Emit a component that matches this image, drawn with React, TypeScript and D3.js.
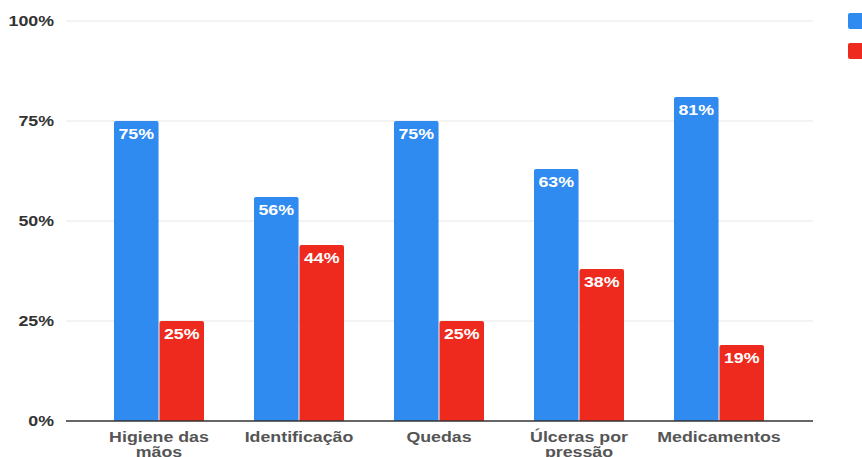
import React from "react";
import * as d3 from "d3";

const categories = [["Higiene das", "mãos"], ["Identificação"], ["Quedas"], ["Úlceras por", "pressão"], ["Medicamentos"]];
const seriesA = [75, 56, 75, 63, 81];
const seriesB = [25, 44, 25, 38, 19];
const yTicks = [0, 25, 50, 75, 100];
const colors = ["#2F8BF0", "#EE2A1F"];

const SX = 1.27;

function T({ x, y, anchor, size, fill, children }: any) {
  return (
    <text transform={`translate(${x},${y}) scale(${SX},1)`} textAnchor={anchor} fontSize={size} fontWeight="bold" fill={fill}>
      {children}
    </text>
  );
}

export default function App() {
  const W = 862, H = 457;
  const y = d3.scaleLinear().domain([0, 100]).range([421, 21]);
  const keys = categories.map((c) => c.join(" "));
  const x = d3.scaleBand().domain(keys).range([89, 789]).padding(0);
  const inner = d3.scaleBand().domain(["a", "b"]).range([0, 90]).paddingInner(0.02);
  const series = [seriesA, seriesB];
  const font = "'Liberation Sans', Arial, Helvetica, sans-serif";
  const bar = (x0: number, w: number, y0: number, y1: number, r: number) =>
    `M${x0},${y1}V${y0 + r}Q${x0},${y0} ${x0 + r},${y0}H${x0 + w - r}Q${x0 + w},${y0} ${x0 + w},${y0 + r}V${y1}Z`;
  return (
    <svg width={W} height={H} style={{ position: "absolute", left: 0, top: 0, background: "#fff" }} fontFamily={font}>
      {yTicks.map((t) => (
        <g key={t}>
          {t > 0 && <line x1={66} x2={813} y1={y(t)} y2={y(t)} stroke="#E6E6E6" strokeWidth={1} />}
          <T x={54} y={y(t) + 5} anchor="end" size={14} fill="#333">{t}%</T>
        </g>
      ))}
      {keys.map((k, i) => {
        const cx = (x(k) as number) + x.bandwidth() / 2;
        return (
          <g key={k}>
            {series.map((s, j) => {
              const bx = cx - 45 + (inner(j === 0 ? "a" : "b") as number);
              const bw = inner.bandwidth();
              return (
                <g key={j}>
                  <path d={bar(bx, bw, y(s[i]), y(0), 2)} fill={colors[j]} />
                  <T x={bx + bw / 2} y={y(s[i]) + 18} anchor="middle" size={14} fill="#fff">{s[i]}%</T>
                </g>
              );
            })}
            {categories[i].map((line, li) => (
              <T key={li} x={cx} y={442 + li * 15} anchor="middle" size={14} fill="#555">{line}</T>
            ))}
          </g>
        );
      })}
      <line x1={66} x2={813} y1={y(0)} y2={y(0)} stroke="#333" strokeWidth={1.5} />
      {colors.map((c, j) => (
        <rect key={c} x={848} y={13 + j * 30} width={16} height={16} rx={2} fill={c} />
      ))}
    </svg>
  );
}
